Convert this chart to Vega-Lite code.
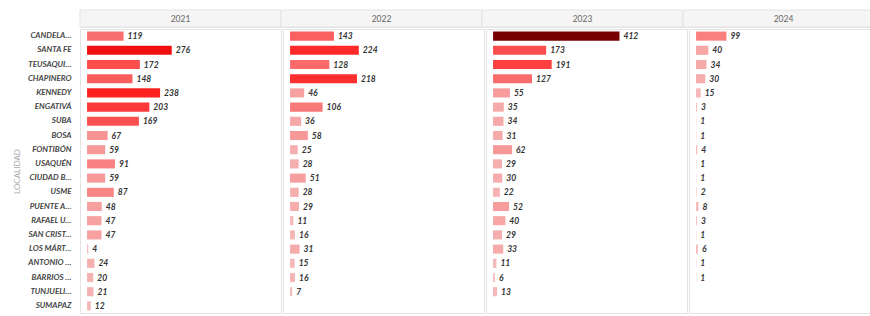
{
  "$schema": "https://vega.github.io/schema/vega-lite/v6.json",
  "padding": {"left": 13, "top": 9, "right": 0, "bottom": 0},
  "config": {
    "font": "Lato",
    "view": {"stroke": "#e3e3e3"},
    "concat": {"spacing": 0},
    "facet": {"spacing": 0}
  },
  "datasets": {
    "years": [{"year": "2021"}, {"year": "2022"}, {"year": "2023"}, {"year": "2024"}],
    "cases": [
      {"localidad": "CANDELARIA", "year": "2021", "casos": 119},
      {"localidad": "SANTA FE", "year": "2021", "casos": 276},
      {"localidad": "TEUSAQUILLO", "year": "2021", "casos": 172},
      {"localidad": "CHAPINERO", "year": "2021", "casos": 148},
      {"localidad": "KENNEDY", "year": "2021", "casos": 238},
      {"localidad": "ENGATIVÁ", "year": "2021", "casos": 203},
      {"localidad": "SUBA", "year": "2021", "casos": 169},
      {"localidad": "BOSA", "year": "2021", "casos": 67},
      {"localidad": "FONTIBÓN", "year": "2021", "casos": 59},
      {"localidad": "USAQUÉN", "year": "2021", "casos": 91},
      {"localidad": "CIUDAD BOLÍVAR", "year": "2021", "casos": 59},
      {"localidad": "USME", "year": "2021", "casos": 87},
      {"localidad": "PUENTE ARANDA", "year": "2021", "casos": 48},
      {"localidad": "RAFAEL URIBE URIBE", "year": "2021", "casos": 47},
      {"localidad": "SAN CRISTÓBAL", "year": "2021", "casos": 47},
      {"localidad": "LOS MÁRTIRES", "year": "2021", "casos": 4},
      {"localidad": "ANTONIO NARIÑO", "year": "2021", "casos": 24},
      {"localidad": "BARRIOS UNIDOS", "year": "2021", "casos": 20},
      {"localidad": "TUNJUELITO", "year": "2021", "casos": 21},
      {"localidad": "SUMAPAZ", "year": "2021", "casos": 12},
      {"localidad": "CANDELARIA", "year": "2022", "casos": 143},
      {"localidad": "SANTA FE", "year": "2022", "casos": 224},
      {"localidad": "TEUSAQUILLO", "year": "2022", "casos": 128},
      {"localidad": "CHAPINERO", "year": "2022", "casos": 218},
      {"localidad": "KENNEDY", "year": "2022", "casos": 46},
      {"localidad": "ENGATIVÁ", "year": "2022", "casos": 106},
      {"localidad": "SUBA", "year": "2022", "casos": 36},
      {"localidad": "BOSA", "year": "2022", "casos": 58},
      {"localidad": "FONTIBÓN", "year": "2022", "casos": 25},
      {"localidad": "USAQUÉN", "year": "2022", "casos": 28},
      {"localidad": "CIUDAD BOLÍVAR", "year": "2022", "casos": 51},
      {"localidad": "USME", "year": "2022", "casos": 28},
      {"localidad": "PUENTE ARANDA", "year": "2022", "casos": 29},
      {"localidad": "RAFAEL URIBE URIBE", "year": "2022", "casos": 11},
      {"localidad": "SAN CRISTÓBAL", "year": "2022", "casos": 16},
      {"localidad": "LOS MÁRTIRES", "year": "2022", "casos": 31},
      {"localidad": "ANTONIO NARIÑO", "year": "2022", "casos": 15},
      {"localidad": "BARRIOS UNIDOS", "year": "2022", "casos": 16},
      {"localidad": "TUNJUELITO", "year": "2022", "casos": 7},
      {"localidad": "CANDELARIA", "year": "2023", "casos": 412},
      {"localidad": "SANTA FE", "year": "2023", "casos": 173},
      {"localidad": "TEUSAQUILLO", "year": "2023", "casos": 191},
      {"localidad": "CHAPINERO", "year": "2023", "casos": 127},
      {"localidad": "KENNEDY", "year": "2023", "casos": 55},
      {"localidad": "ENGATIVÁ", "year": "2023", "casos": 35},
      {"localidad": "SUBA", "year": "2023", "casos": 34},
      {"localidad": "BOSA", "year": "2023", "casos": 31},
      {"localidad": "FONTIBÓN", "year": "2023", "casos": 62},
      {"localidad": "USAQUÉN", "year": "2023", "casos": 29},
      {"localidad": "CIUDAD BOLÍVAR", "year": "2023", "casos": 30},
      {"localidad": "USME", "year": "2023", "casos": 22},
      {"localidad": "PUENTE ARANDA", "year": "2023", "casos": 52},
      {"localidad": "RAFAEL URIBE URIBE", "year": "2023", "casos": 40},
      {"localidad": "SAN CRISTÓBAL", "year": "2023", "casos": 29},
      {"localidad": "LOS MÁRTIRES", "year": "2023", "casos": 33},
      {"localidad": "ANTONIO NARIÑO", "year": "2023", "casos": 11},
      {"localidad": "BARRIOS UNIDOS", "year": "2023", "casos": 6},
      {"localidad": "TUNJUELITO", "year": "2023", "casos": 13},
      {"localidad": "CANDELARIA", "year": "2024", "casos": 99},
      {"localidad": "SANTA FE", "year": "2024", "casos": 40},
      {"localidad": "TEUSAQUILLO", "year": "2024", "casos": 34},
      {"localidad": "CHAPINERO", "year": "2024", "casos": 30},
      {"localidad": "KENNEDY", "year": "2024", "casos": 15},
      {"localidad": "ENGATIVÁ", "year": "2024", "casos": 3},
      {"localidad": "SUBA", "year": "2024", "casos": 1},
      {"localidad": "BOSA", "year": "2024", "casos": 1},
      {"localidad": "FONTIBÓN", "year": "2024", "casos": 4},
      {"localidad": "USAQUÉN", "year": "2024", "casos": 1},
      {"localidad": "CIUDAD BOLÍVAR", "year": "2024", "casos": 1},
      {"localidad": "USME", "year": "2024", "casos": 2},
      {"localidad": "PUENTE ARANDA", "year": "2024", "casos": 8},
      {"localidad": "RAFAEL URIBE URIBE", "year": "2024", "casos": 3},
      {"localidad": "SAN CRISTÓBAL", "year": "2024", "casos": 1},
      {"localidad": "LOS MÁRTIRES", "year": "2024", "casos": 6},
      {"localidad": "ANTONIO NARIÑO", "year": "2024", "casos": 1},
      {"localidad": "BARRIOS UNIDOS", "year": "2024", "casos": 1}
    ]
  },
  "vconcat": [
    {
      "data": {"name": "years"},
      "width": 804,
      "height": 17,
      "view": {"stroke": "#e3e3e3"},
      "encoding": {
        "x": {"field": "year", "type": "nominal", "axis": null,
              "scale": {"paddingInner": 0, "paddingOuter": 0}}
      },
      "layer": [
        {"mark": {"type": "bar", "fill": "#f5f5f5", "stroke": "#e3e3e3", "strokeWidth": 1, "width": {"band": 1}}},
        {"mark": {"type": "text", "fontSize": 8.5, "color": "#666"},
         "encoding": {"text": {"field": "year"}}}
      ]
    },
    {
      "data": {"name": "cases"},
      "facet": {
        "column": {"field": "year", "type": "nominal", "header": {"title": null, "labels": false, "labelPadding": 0, "titlePadding": 0}}
      },
      "spec": {
        "width": 201,
        "height": {"step": 14.2},
        "encoding": {
          "y": {
            "field": "localidad", "type": "nominal",
            "sort": ["CANDELARIA", "SANTA FE", "TEUSAQUILLO", "CHAPINERO", "KENNEDY", "ENGATIVÁ", "SUBA", "BOSA", "FONTIBÓN", "USAQUÉN", "CIUDAD BOLÍVAR", "USME", "PUENTE ARANDA", "RAFAEL URIBE URIBE", "SAN CRISTÓBAL", "LOS MÁRTIRES", "ANTONIO NARIÑO", "BARRIOS UNIDOS", "TUNJUELITO", "SUMAPAZ"],
            "scale": {"paddingInner": 0.36, "paddingOuter": 0.18},
            "axis": {
              "title": "LOCALIDAD", "titleColor": "#aaa", "titleFontSize": 8, "titleFontWeight": "normal", "titlePadding": 6,
              "labelFontStyle": "italic", "labelFontWeight": "bold", "labelColor": "#444", "labelFontSize": 8,
              "labelLimit": 44, "labelPadding": 8, "ticks": false, "domain": false, "grid": false
            }
          },
          "x": {
            "field": "casos", "type": "quantitative", "axis": null,
            "scale": {"domain": [-23, 632], "nice": false, "zero": false}
          }
        },
        "layer": [
          {
            "mark": {"type": "bar"},
            "encoding": {
              "color": {
                "field": "casos", "type": "quantitative", "legend": null,
                "scale": {"domain": [0, 260, 412], "range": ["#f5c0c0", "#ff1212", "#780000"], "interpolate": "rgb"}
              }
            }
          },
          {
            "mark": {"type": "text", "align": "left", "dx": 4, "fontSize": 8.5, "fontStyle": "italic", "fontWeight": "bold", "color": "#333"},
            "encoding": {"text": {"field": "casos", "type": "quantitative"}}
          }
        ]
      }
    }
  ]
}
